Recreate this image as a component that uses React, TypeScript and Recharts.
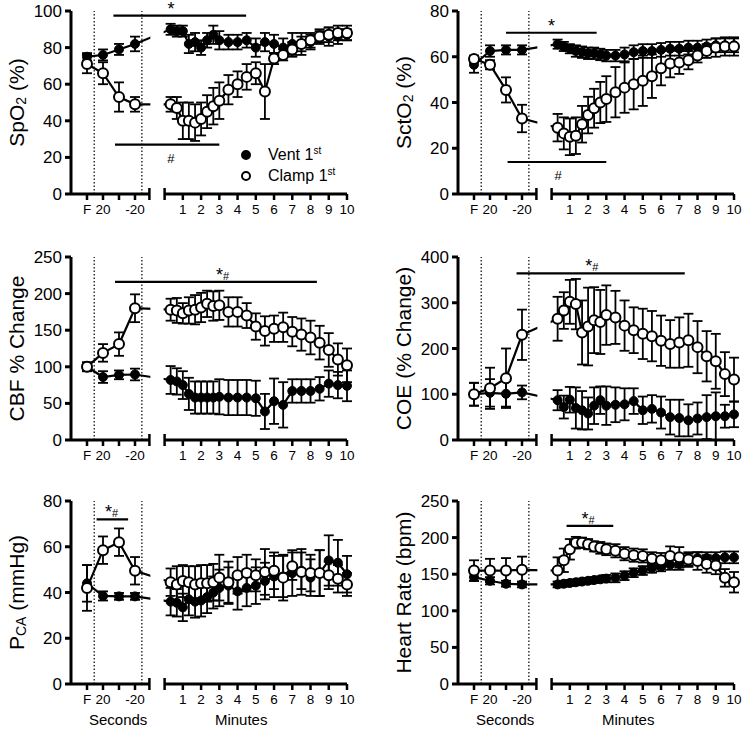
import {
  ComposedChart,
  Line,
  ErrorBar,
  XAxis,
  YAxis,
  ReferenceLine,
  ReferenceArea,
  ReferenceDot,
  Legend,
} from 'recharts'

const FONT = '"Liberation Sans", Arial, Helvetica, sans-serif'

// x layout: one unit per "seconds" step, then a broken axis and the minutes block
const X_MIN = -1
const SEG_END = 3.9
const R0 = 4.85
const PER_MIN = 1.14
const X_MAX = R0 + 10 * PER_MIN
const mx = (m: number) => R0 + m * PER_MIN

const secLabels = ['F', '20', '', '-20']
const minuteLabels = ['1', '2', '3', '4', '5', '6', '7', '8', '9', '10']
const minutes = [
  0.33, 0.67, 1, 1.33, 1.67, 2, 2.33, 2.67, 3, 3.5, 4, 4.5, 5, 5.5, 6, 6.5, 7, 7.5, 8, 8.5, 9, 9.5, 10,
]

// SpO2 (%)
const spo2VentSec = [75, 76, 79, 82]
const spo2VentSecErr = [2, 3, 3, 4]
const spo2ClampSec = [71, 66, 53, 49]
const spo2ClampSecErr = [5, 6, 8, 4]
const spo2VentMin = [90, 89, 89, 82, 83, 80, 84, 87, 84, 83, 83, 84, 80, 83, 82, 80, 82, 82, 83, 86, 86, 86, 87]
const spo2VentMinErr = [3, 3, 3, 5, 5, 4, 4, 5, 5, 4, 4, 4, 5, 5, 5, 5, 6, 6, 4, 4, 5, 4, 3]
const spo2ClampMin = [49, 47, 40, 40, 39, 41, 45, 48, 51, 57, 60, 64, 66, 56, 74, 76, 79, 82, 84, 86, 87, 88, 88]
const spo2ClampMinErr = [4, 6, 10, 10, 10, 9, 9, 10, 10, 8, 7, 7, 6, 15, 3, 3, 4, 4, 4, 3, 4, 4, 4]

// SctO2 (%)
const scto2VentSec = [56.5, 62.5, 63, 63]
const scto2VentSecErr = [3.5, 2.5, 2, 2]
const scto2ClampSec = [59, 56.5, 45.5, 33]
const scto2ClampSecErr = [1.5, 2, 5.5, 6]
const scto2VentMin = [65.5, 64.5, 63.5, 62.5, 62, 61.5, 61.5, 61, 60.5, 60.5, 61, 62, 62.5, 62.5, 63, 63.5, 63.5, 64, 64, 64.5, 65, 65, 65]
const scto2VentMinErr = [2, 2, 2, 2.5, 2.5, 2.5, 2.5, 2.5, 2.5, 2.5, 3, 3, 3, 3, 3, 3, 3, 3, 3, 3, 3, 3, 3]
const scto2ClampMin = [29, 26.5, 25, 25.5, 30.5, 34.5, 37.5, 40, 41.5, 44.5, 46.5, 48, 49.5, 51.5, 55, 57, 57.5, 58.5, 60.5, 62.5, 64, 64.5, 64.5]
const scto2ClampMinErr = [6, 7, 8, 8, 8, 8, 8.5, 9, 10, 11, 11, 11, 11, 9.5, 7.5, 6, 5, 4, 3, 3, 4, 4, 4]

// CBF % change
const cbfVentSec = [100, 86, 89, 89.5]
const cbfVentSecErr = [6, 8, 6, 8]
const cbfClampSec = [100, 119, 131, 180]
const cbfClampSecErr = [6, 12, 16, 19]
const cbfVentMin = [82, 80, 75, 63, 58, 58, 58, 58, 59, 58, 58, 58, 57, 39, 53, 48, 67, 67, 67, 70, 77, 75, 74]
const cbfVentMinErr = [19, 18, 19, 22, 22, 22, 22, 22, 24, 24, 24, 24, 24, 24, 31, 31, 16, 16, 16, 16, 18, 18, 21]
const cbfClampMin = [178, 177, 173, 177, 178, 181, 186, 183, 184, 175, 175, 170, 155, 149, 152, 154, 148, 144, 140, 133, 123, 110, 102]
const cbfClampMinErr = [15, 17, 14, 18, 20, 20, 18, 20, 20, 20, 20, 17, 18, 20, 18, 20, 20, 22, 23, 23, 23, 22, 23]

// COE (% change)
const coeVentSec = [100, 103, 101, 104]
const coeVentSecErr = [25, 30, 28, 15]
const coeClampSec = [100, 113, 135, 230]
const coeClampSecErr = [25, 45, 65, 55]
const coeVentMin = [87, 72, 88, 70, 65, 58, 75, 87, 75, 77, 78, 85, 65, 68, 60, 50, 48, 43, 47, 50, 52, 52, 56]
const coeVentMinErr = [22, 25, 28, 45, 42, 35, 40, 30, 42, 38, 35, 28, 30, 30, 35, 38, 40, 35, 35, 48, 52, 25, 28]
const coeClampMin = [265, 283, 302, 297, 235, 248, 262, 258, 273, 268, 250, 240, 232, 227, 217, 210, 213, 218, 203, 183, 172, 144, 132]
const coeClampMinErr = [48, 40, 48, 55, 70, 85, 72, 70, 65, 58, 55, 50, 55, 55, 55, 52, 55, 58, 57, 55, 60, 48, 48]

// PCA (mmHg)
const pcaVentSec = [44, 38.5, 38.3, 38.3]
const pcaVentSecErr = [8, 2, 1.5, 1.5]
const pcaClampSec = [42, 58.5, 62, 49.5]
const pcaClampSecErr = [10, 6, 6, 6]
const pcaVentMin = [36, 35.5, 33.5, 37, 36, 36.5, 38, 40, 42, 43, 40.5, 42, 43, 45, 47, 47, 48.5, 49.5, 46.5, 48.5, 54, 53, 48]
const pcaVentMinErr = [6, 6, 6, 7, 7, 7, 7, 7, 8, 8, 8, 8, 8, 8, 9, 9, 10, 8, 8, 10, 11, 10, 8]
const pcaClampMin = [44.5, 43.5, 45, 44.5, 43.5, 44, 44, 44.5, 46.5, 44.5, 47.5, 48.5, 47.5, 49, 49.5, 46.5, 51.5, 49, 48.5, 48.5, 47.5, 46, 43.5]
const pcaClampMinErr = [6, 8, 7, 7, 8, 8, 8, 8, 10, 9, 8, 8, 7, 10, 8, 10, 6, 10, 8, 10, 6, 6, 5]

// Heart rate (bpm)
const hrVentSec = [146, 141, 137, 136]
const hrVentSecErr = [5, 5, 4, 4]
const hrClampSec = [155, 155, 155, 156]
const hrClampSecErr = [14, 16, 17, 18]
const hrVentMin = [136, 137, 138, 139, 140, 141, 142, 143, 144, 145, 148, 152, 155, 158, 160, 163, 164, 170, 172, 172, 172, 173, 173]
const hrVentMinErr = [4, 4, 4, 4, 4, 4, 4, 4, 5, 6, 6, 6, 6, 6, 6, 7, 8, 8, 8, 8, 8, 8, 8]
const hrClampMin = [155, 169, 184, 193, 193, 191, 188, 186, 184, 182, 178, 176, 175, 171, 169, 175, 173, 170, 168, 164, 162, 145, 139]
const hrClampMinErr = [18, 16, 14, 8, 7, 7, 7, 8, 8, 9, 9, 9, 9, 9, 10, 13, 14, 10, 12, 12, 12, 12, 14]

const xTicks = [0, 1, 2, 3, SEG_END, R0, ...minuteLabels.map((_, i) => mx(i + 1))]
const xTickText = [...secLabels, '', '', ...minuteLabels]

function buildRows(
  vs: number[], vse: number[], cs: number[], cse: number[],
  vm: number[], vme: number[], cm: number[], cme: number[]
) {
  const sec = secLabels.map((_, i) => ({ x: i, vent: vs[i], ventErr: vse[i], clamp: cs[i], clampErr: cse[i] }))
  const min = minutes.map((m, i) => ({ x: mx(m), vent: vm[i], ventErr: vme[i], clamp: cm[i], clampErr: cme[i] }))
  return [...sec, ...min]
}

interface Sig {
  x1: number
  x2: number
  y: number
  lx: number
  text: string
  below?: boolean
}

interface Panel {
  id: string
  left: number
  top: number
  height: number
  yMax: number
  yTicks: number[]
  title: { t: string; sub?: boolean }[]
  rows: ReturnType<typeof buildRows>
  sig: Sig[]
  legend?: boolean
  footer?: boolean
}

const panels: Panel[] = [
  {
    id: 'spo2', left: 0, top: 0, height: 245, yMax: 100, yTicks: [0, 20, 40, 60, 80, 100],
    title: [{ t: 'SpO' }, { t: '2', sub: true }, { t: ' (%)' }],
    rows: buildRows(spo2VentSec, spo2VentSecErr, spo2ClampSec, spo2ClampSecErr, spo2VentMin, spo2VentMinErr, spo2ClampMin, spo2ClampMinErr),
    sig: [
      { x1: 1.65, x2: mx(4.47), y: 97.5, lx: mx(0.35), text: '*' },
      { x1: 1.75, x2: mx(3.0), y: 27, lx: mx(0.35), text: '#', below: true },
    ],
    legend: true,
  },
  {
    id: 'scto2', left: 387, top: 0, height: 245, yMax: 80, yTicks: [0, 20, 40, 60, 80],
    title: [{ t: 'SctO' }, { t: '2', sub: true }, { t: ' (%)' }],
    rows: buildRows(scto2VentSec, scto2VentSecErr, scto2ClampSec, scto2ClampSecErr, scto2VentMin, scto2VentMinErr, scto2ClampMin, scto2ClampMinErr),
    sig: [
      { x1: 2.0, x2: mx(2.47), y: 70.5, lx: mx(0), text: '*' },
      { x1: 2.1, x2: mx(3.0), y: 14, lx: mx(0.36), text: '#', below: true },
    ],
  },
  {
    id: 'cbf', left: 0, top: 246, height: 244, yMax: 250, yTicks: [0, 50, 100, 150, 200, 250],
    title: [{ t: 'CBF % Change' }],
    rows: buildRows(cbfVentSec, cbfVentSecErr, cbfClampSec, cbfClampSecErr, cbfVentMin, cbfVentMinErr, cbfClampMin, cbfClampMinErr),
    sig: [{ x1: 1.75, x2: mx(8.35), y: 216, lx: mx(3.18), text: '*#' }],
  },
  {
    id: 'coe', left: 387, top: 246, height: 244, yMax: 400, yTicks: [0, 100, 200, 300, 400],
    title: [{ t: 'COE (% Change)' }],
    rows: buildRows(coeVentSec, coeVentSecErr, coeClampSec, coeClampSecErr, coeVentMin, coeVentMinErr, coeClampMin, coeClampMinErr),
    sig: [{ x1: 2.66, x2: mx(7.3), y: 364, lx: mx(2.2), text: '*#' }],
  },
  {
    id: 'pca', left: 0, top: 490, height: 240, yMax: 80, yTicks: [0, 20, 40, 60, 80],
    title: [{ t: 'P' }, { t: 'CA', sub: true }, { t: ' (mmHg)' }],
    rows: buildRows(pcaVentSec, pcaVentSecErr, pcaClampSec, pcaClampSecErr, pcaVentMin, pcaVentMinErr, pcaClampMin, pcaClampMinErr),
    sig: [{ x1: 0.6, x2: 2.57, y: 72, lx: 1.54, text: '*#' }],
    footer: true,
  },
  {
    id: 'hr', left: 387, top: 490, height: 240, yMax: 250, yTicks: [0, 50, 100, 150, 200, 250],
    title: [{ t: 'Heart Rate (bpm)' }],
    rows: buildRows(hrVentSec, hrVentSecErr, hrClampSec, hrClampSecErr, hrVentMin, hrVentMinErr, hrClampMin, hrClampMinErr),
    sig: [{ x1: mx(0.82), x2: mx(3.38), y: 216, lx: mx(2.0), text: '*#' }],
    footer: true,
  },
]

const PLOT_TOP = 11
const PLOT_H = 183
const CHART_W = 355

const XTick = (props: any) => {
  const { x, y, payload } = props
  const i = xTicks.findIndex((t) => Math.abs(t - payload.value) < 1e-6)
  const cap = i === 4 || i === 5
  return (
    <g>
      <line x1={x} x2={x} y1={cap ? y - 6 : y} y2={y + 6} stroke="#000" strokeWidth={2.5} />
      {xTickText[i] ? (
        <text x={x} y={y + 10} dy="0.71em" textAnchor="middle" fontSize={13.5} fill="#000">
          {xTickText[i]}
        </text>
      ) : null}
    </g>
  )
}

const yTitle = (parts: Panel['title']) => () => {
  const cx = 16
  const cy = PLOT_TOP + PLOT_H / 2
  return (
    <text
      x={cx}
      y={cy}
      transform={`rotate(-90 ${cx} ${cy})`}
      textAnchor="middle"
      dominantBaseline="central"
      fontSize={21}
      fill="#000"
    >
      {parts.map((p, i) =>
        p.sub ? (
          <tspan key={i} fontSize={14} dy={5}>{p.t}</tspan>
        ) : (
          <tspan key={i} dy={i > 0 && parts[i - 1].sub ? -5 : 0}>{p.t}</tspan>
        )
      )}
    </text>
  )
}

const sigLabel = (text: string, below?: boolean) => (props: any) => {
  const vb = props.viewBox
  if (!vb) return null
  const cx = vb.x + (vb.width || 0) / 2
  const cy = vb.y + (vb.height || 0) / 2
  if (below) {
    return <text x={cx} y={cy + 18} textAnchor="middle" fontSize={13} fill="#000">{text}</text>
  }
  if (text === '*') {
    return <text x={cx} y={cy - 1} textAnchor="middle" fontSize={18} fill="#000">*</text>
  }
  return (
    <text x={cx} y={cy - 1} textAnchor="middle" fill="#000">
      <tspan fontSize={18}>*</tspan>
      <tspan fontSize={11} dy={-1}>#</tspan>
    </text>
  )
}

const footerLabel = (text: string) => (props: any) => {
  const vb = props.viewBox
  if (!vb) return null
  return (
    <text x={vb.x + (vb.width || 0) / 2} y={vb.y + 41} textAnchor="middle" fontSize={15} fill="#000">
      {text}
    </text>
  )
}

const renderLegend = (props: any) => {
  const items = [...(props.payload || [])].sort((a: any) => (a.dataKey === 'vent' ? -1 : 1))
  return (
    <div style={{ fontFamily: FONT, fontSize: 16, color: '#000', position: 'relative', width: 120, height: 42 }}>
      {items.map((e: any, k: number) => {
        const name = String(e.value)
        const m = name.match(/^(.*\d)(st)$/)
        return (
          <div key={name} style={{ position: 'absolute', left: 0, top: k * 21, height: 21, width: 120 }}>
            <svg width={12} height={12} style={{ position: 'absolute', left: 0, top: 4.5 }}>
              <circle cx={6} cy={6} r={4} fill={e.dataKey === 'vent' ? '#000' : '#fff'} stroke="#000" strokeWidth={2} />
            </svg>
            <span style={{ position: 'absolute', left: 28, top: 1, whiteSpace: 'nowrap', lineHeight: '18px' }}>
              {m ? m[1] : name}
              {m ? <span style={{ fontSize: 10, position: 'relative', top: -6 }}>{m[2]}</span> : null}
            </span>
          </div>
        )
      })}
    </div>
  )
}

function PanelChart({ p }: { p: Panel }) {
  const xh = p.height - PLOT_TOP - PLOT_H
  return (
    <div style={{ position: 'absolute', left: p.left, top: p.top }}>
      <ComposedChart
        width={CHART_W}
        height={p.height}
        data={p.rows}
        margin={{ top: PLOT_TOP, right: 8, left: 0, bottom: 0 }}
      >
        <XAxis
          dataKey="x"
          type="number"
          domain={[X_MIN, X_MAX]}
          ticks={xTicks}
          interval={0}
          axisLine={false}
          tickLine={false}
          tickSize={0}
          tickMargin={0}
          height={xh}
          tick={XTick}
        />
        <YAxis
          type="number"
          domain={[0, p.yMax]}
          ticks={p.yTicks}
          interval={0}
          width={71}
          axisLine={{ stroke: '#000', strokeWidth: 3 }}
          tickLine={{ stroke: '#000', strokeWidth: 3 }}
          tickSize={6}
          tickMargin={3}
          tick={{ fill: '#000', fontSize: 17 }}
          label={{ content: yTitle(p.title) }}
        />
        <ReferenceLine x={0.45} stroke="#000" strokeWidth={1.2} strokeDasharray="1.5 2" />
        <ReferenceLine x={3.43} stroke="#000" strokeWidth={1.2} strokeDasharray="1.5 2" />
        <Line
          dataKey="vent"
          name="Vent 1st"
          type="linear"
          stroke="#000"
          strokeWidth={2.2}
          dot={{ r: 4.5, fill: '#000', stroke: '#000', strokeWidth: 1 }}
          activeDot={false}
          isAnimationActive={false}
        >
          <ErrorBar dataKey="ventErr" direction="y" width={5} stroke="#000" strokeWidth={1.8} />
        </Line>
        <Line
          dataKey="clamp"
          name="Clamp 1st"
          type="linear"
          stroke="#000"
          strokeWidth={2.2}
          dot={{ r: 5, fill: '#fff', stroke: '#000', strokeWidth: 2 }}
          activeDot={false}
          isAnimationActive={false}
        >
          <ErrorBar dataKey="clampErr" direction="y" width={5} stroke="#000" strokeWidth={1.8} />
        </Line>
        <ReferenceArea
          x1={SEG_END + 0.06}
          x2={R0 - 0.06}
          fill="#fff"
          fillOpacity={1}
          stroke="none"
          ifOverflow="visible"
          zIndex={1500}
        />
        <ReferenceLine
          segment={[{ x: X_MIN, y: 0 }, { x: SEG_END, y: 0 }]}
          stroke="#000"
          strokeWidth={3}
          ifOverflow="visible"
          zIndex={1600}
        />
        <ReferenceLine
          segment={[{ x: R0, y: 0 }, { x: X_MAX, y: 0 }]}
          stroke="#000"
          strokeWidth={3}
          ifOverflow="visible"
          zIndex={1600}
        />
        {p.sig.map((s, i) => (
          <ReferenceLine
            key={`sl${i}`}
            segment={[{ x: s.x1, y: s.y }, { x: s.x2, y: s.y }]}
            stroke="#000"
            strokeWidth={2.2}
            ifOverflow="visible"
            zIndex={1600}
          />
        ))}
        {p.sig.map((s, i) => (
          <ReferenceDot
            key={`sd${i}`}
            x={s.lx}
            y={s.y}
            r={0}
            fill="none"
            stroke="none"
            ifOverflow="visible"
            zIndex={1600}
            label={{ content: sigLabel(s.text, s.below) }}
          />
        ))}
        {p.footer ? (
          <ReferenceDot x={1.95} y={0} r={0} fill="none" stroke="none" ifOverflow="visible" label={{ content: footerLabel('Seconds') }} />
        ) : null}
        {p.footer ? (
          <ReferenceDot x={mx(4.2)} y={0} r={0} fill="none" stroke="none" ifOverflow="visible" label={{ content: footerLabel('Minutes') }} />
        ) : null}
        {p.legend ? (
          <Legend
            layout="vertical"
            align="center"
            verticalAlign="middle"
            width={120}
            wrapperStyle={{ left: 240, top: 144.5 }}
            content={renderLegend}
          />
        ) : null}
      </ComposedChart>
    </div>
  )
}

export default function App() {
  return (
    <div
      style={{
        position: 'absolute',
        left: 0,
        top: 0,
        width: 742,
        height: 730,
        overflow: 'hidden',
        background: '#fff',
        fontFamily: FONT,
      }}
    >
      {panels.map((p) => (
        <PanelChart key={p.id} p={p} />
      ))}
    </div>
  )
}
